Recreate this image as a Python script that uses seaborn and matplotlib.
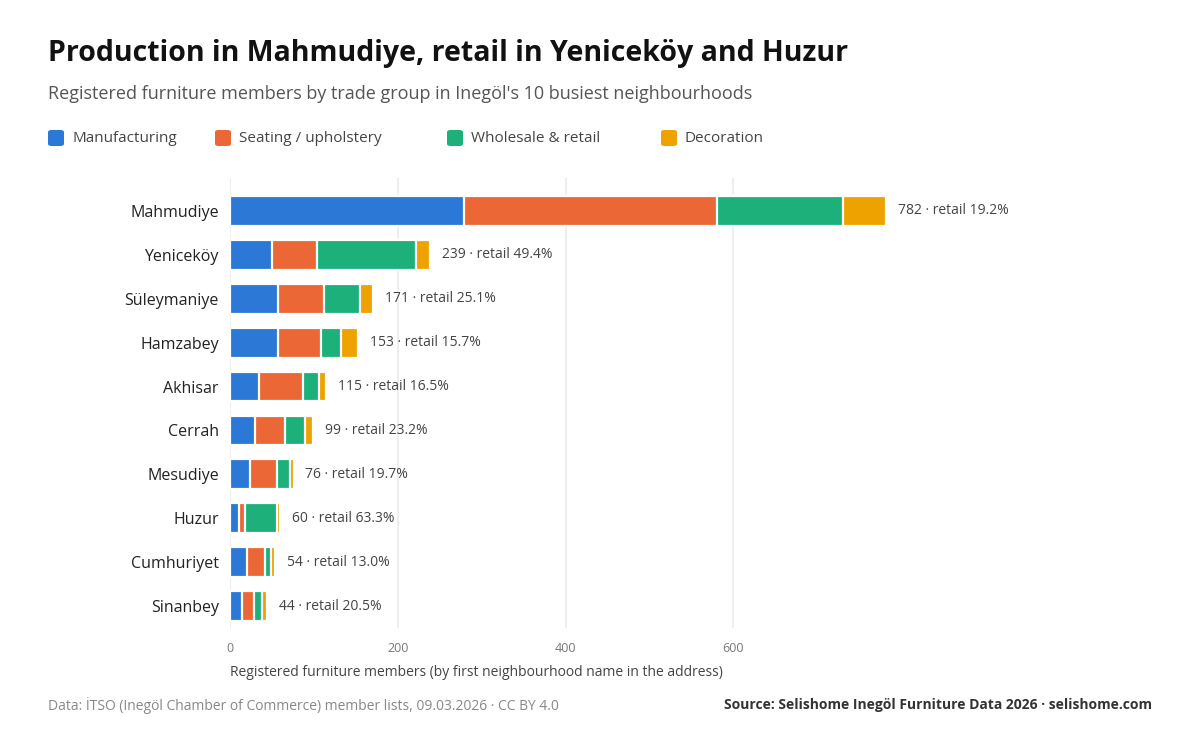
import numpy as np
import pandas as pd
import seaborn as sns
import matplotlib.pyplot as plt
from matplotlib.patches import FancyBboxPatch

# Données
quartiers = ["Mahmudiye", "Yeniceköy", "Süleymaniye", "Hamzabey", "Akhisar",
             "Cerrah", "Mesudiye", "Huzur", "Cumhuriyet", "Sinanbey"]
manufacturing = [279, 50, 57, 57, 35, 30, 24, 11, 20, 14]
seating = [302, 54, 55, 51, 52, 36, 32, 7, 22, 15]
wholesale = [150, 118, 43, 24, 19, 23, 15, 38, 7, 9]
decoration = [51, 17, 16, 21, 9, 10, 5, 4, 5, 6]
groupes = ["Manufacturing", "Seating / upholstery", "Wholesale & retail", "Decoration"]
couleurs = ["#2b78d6", "#eb6836", "#1db07b", "#eea200"]

df = pd.DataFrame({"Quartier": quartiers, "Manufacturing": manufacturing,
                   "Seating": seating, "Wholesale": wholesale, "Decoration": decoration})
df["c1"] = df["Manufacturing"]
df["c2"] = df["c1"] + df["Seating"]
df["c3"] = df["c2"] + df["Wholesale"]
df["c4"] = df["c3"] + df["Decoration"]
df["retail"] = df["Wholesale"] / df["c4"] * 100

sns.set_theme(style="white")
plt.rcParams["font.family"] = ["Open Sans", "DejaVu Sans"]

fig = plt.figure(figsize=(12, 7.4), dpi=100)
ax = fig.add_axes([230 / 1200, 1 - 628 / 740, 656 / 1200, 450 / 740])

# Barres empilées : on dessine les cumuls du plus grand au plus petit
for col, couleur in zip(["c4", "c3", "c2", "c1"], couleurs[::-1]):
    sns.barplot(data=df, x=col, y="Quartier", order=quartiers, orient="h",
                color=couleur, width=0.68, edgecolor="white", linewidth=1.6,
                saturation=1, ax=ax)

ax.set_xlim(0, 782)
ax.set_ylim(9.5, -0.75)
ax.set_xticks([0, 200, 400, 600])
ax.grid(axis="x", color="#ebebeb", linewidth=1.2)
ax.set_axisbelow(True)
for s in ax.spines.values():
    s.set_visible(False)
ax.tick_params(axis="x", colors="#777777", labelsize=9, length=0, pad=10)
ax.tick_params(axis="y", colors="#222222", labelsize=11.5, length=0, pad=8)
for lab in ax.get_yticklabels():
    lab.set_verticalalignment("center_baseline")
ax.set_xlabel("")
ax.set_ylabel("")

# Étiquettes de total
for i, row in df.iterrows():
    ax.text(row["c4"] + 14, i, f"{row['c4']} · retail {row['retail']:.1f}%",
            va="center", ha="left", fontsize=10, color="#444444", clip_on=False)

# Titres
fig.text(48 / 1200, 1 - 53 / 740, "Production in Mahmudiye, retail in Yeniceköy and Huzur",
         fontsize=20.5, fontweight="bold", color="#111111", va="center")
fig.text(48 / 1200, 1 - 94 / 740,
         "Registered furniture members by trade group in Inegöl's 10 busiest neighbourhoods",
         fontsize=13, color="#555555", va="center")

# Légende manuelle
pos_legende = [48, 215, 447, 661]
for x, nom, couleur in zip(pos_legende, groupes, couleurs):
    fig.patches.append(FancyBboxPatch((x / 1200, 1 - 146 / 740), 16 / 1200, 16 / 740,
                                      boxstyle="round,pad=0,rounding_size=0.003",
                                      transform=fig.transFigure, facecolor=couleur,
                                      edgecolor="none"))
    fig.text((x + 24) / 1200, 1 - 139 / 740, nom, fontsize=11, color="#444444", va="center")

fig.text(230 / 1200, 1 - 672 / 740,
         "Registered furniture members (by first neighbourhood name in the address)",
         fontsize=10, color="#444444", va="center")

# Pied de page
fig.text(48 / 1200, 1 - 705 / 740,
         "Data: İTSO (Inegöl Chamber of Commerce) member lists, 09.03.2026 · CC BY 4.0",
         fontsize=10, color="#888888", va="center")
fig.text(1152 / 1200, 1 - 705 / 740,
         "Source: Selishome Inegöl Furniture Data 2026 · selishome.com",
         fontsize=10, color="#333333", fontweight="bold", va="center", ha="right")

fig.savefig("out.png", dpi=100, facecolor="white")
